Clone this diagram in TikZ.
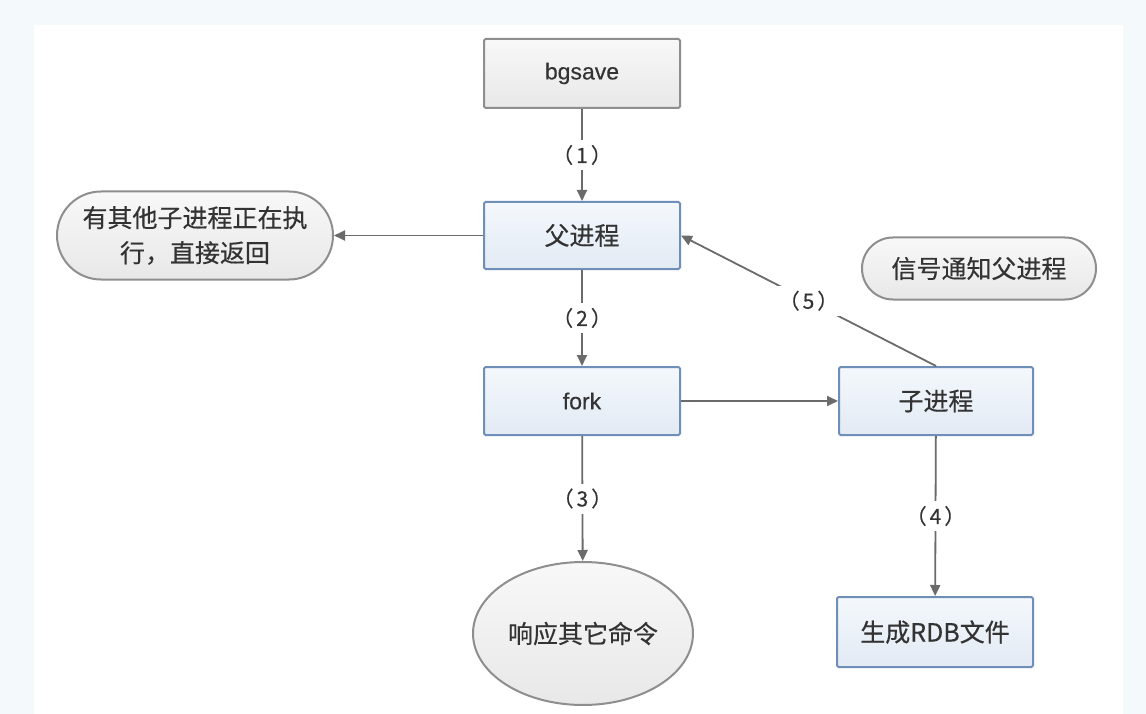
\documentclass[tikz,border=0pt]{standalone}
\usepackage{fontspec}
\setmainfont{Noto Sans CJK SC}
\newfontfamily\cjkb{Noto Sans CJK SC}[FakeBold=0.4]
\newfontfamily\latinf{Liberation Sans}[FakeBold=0.3]
\usetikzlibrary{arrows.meta,shapes.geometric}
\definecolor{bgout}{HTML}{F4F9FC}
\definecolor{blueedge}{HTML}{6F8FB8}
\definecolor{bluetop}{HTML}{F4F8FC}
\definecolor{bluebot}{HTML}{E2EAF4}
\definecolor{grayedge}{HTML}{8E8E8E}
\definecolor{graytop}{HTML}{F8F8F8}
\definecolor{graybot}{HTML}{E8E8E8}
\definecolor{arrowcol}{HTML}{6B6B6B}
\definecolor{txt}{HTML}{333333}
\tikzset{
  bluebox/.style={draw=blueedge, line width=2pt, top color=bluetop, bottom color=bluebot,
    rounded corners=1.5pt, minimum width=196pt, inner sep=0pt, text=txt,
    font=\cjkb\fontsize{25}{30}\selectfont},
  graybox/.style={draw=grayedge, line width=2pt, top color=graytop, bottom color=graybot,
    rounded corners=1.5pt, inner sep=0pt, text=txt, font=\cjkb\fontsize{25}{30}\selectfont},
  arr/.style={draw=arrowcol, line width=1.8pt, -{Triangle[length=11pt,width=10pt]}},
  lbl/.style={fill=white, text=txt, inner sep=5pt, font=\cjkb\fontsize{21}{24}\selectfont},
}
\newcommand{\stepnum}[1]{（\hspace{3pt}#1\hspace{3pt}）}
\begin{document}
\begin{tikzpicture}[x=1pt,y=-1pt]
\useasboundingbox (0,0) rectangle (1146,714);
\fill[bgout] (0,0) rectangle (1146,714);
\fill[white] (34,25) rectangle (1123,714);

\node[graybox, minimum width=196pt, minimum height=69pt, font=\latinf\fontsize{23}{28}\selectfont] (bgsave) at (582,73.5) {bgsave};
\node[bluebox, minimum height=67pt] (parent) at (582,235.5) {父进程};
\node[bluebox, minimum height=68pt, font=\latinf\fontsize{23}{28}\selectfont] (fork) at (582,401) {fork};
\node[bluebox, minimum width=194pt, minimum height=68pt] (child) at (936,401) {子进程};
\node[bluebox, minimum height=70pt] (rdb) at (935,632) {生成RDB文件};
\node[graybox, ellipse, minimum width=220pt, minimum height=143pt] (resp) at (583,633.5) {响应其它命令};
\node[graybox, rounded corners=44pt, minimum width=276pt, minimum height=88pt, align=center,
  font=\cjkb\fontsize{25}{35}\selectfont] (busy) at (195,235.5) {有其他子进程正在执\\行，直接返回};
\node[graybox, rounded corners=31pt, minimum width=234pt, minimum height=62pt] (signal) at (979,268.5) {信号通知父进程};

\draw[arr] (bgsave) -- node[lbl] {\stepnum{1}} (parent);
\draw[arr] (parent.west) -- (busy.east);
\draw[arr] (parent) -- node[lbl] {\stepnum{2}} (fork);
\draw[arr] (fork.east) -- (child.west);
\draw[arr] (fork) -- node[lbl] {\stepnum{3}} (resp);
\draw[arr] (child) -- node[lbl] {\stepnum{4}} (rdb);
\draw[arr] (child.north) -- node[lbl] {\stepnum{5}} (parent.east);
\end{tikzpicture}
\end{document}
